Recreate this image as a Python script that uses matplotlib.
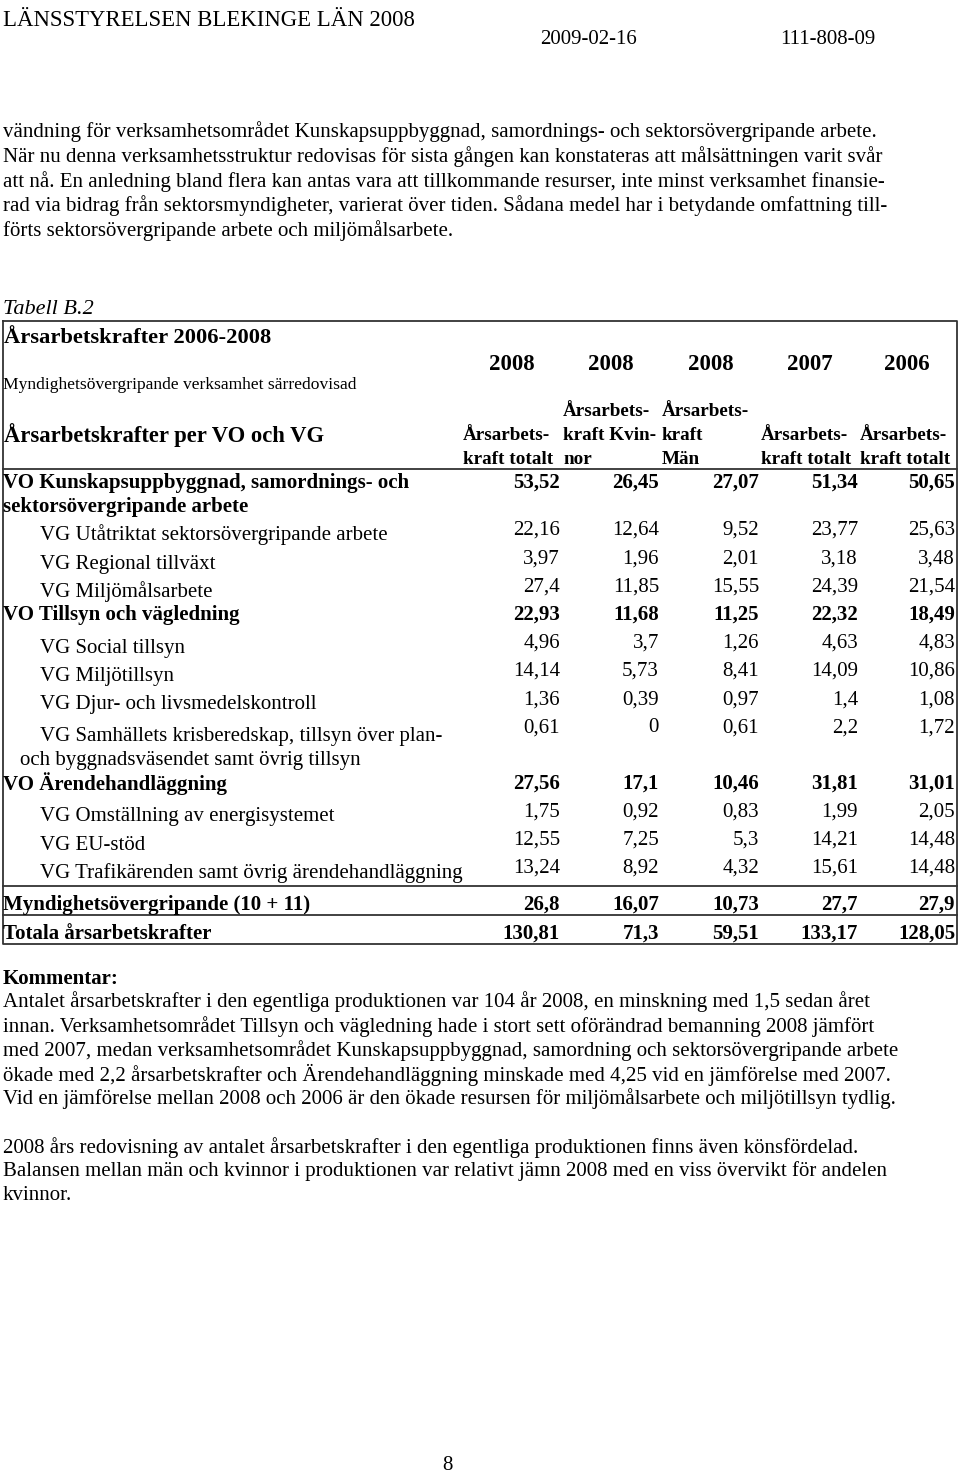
import matplotlib
matplotlib.use("Agg")
import matplotlib.pyplot as plt

plt.rcParams['font.family'] = ['Liberation Serif', 'DejaVu Serif']

# page text
header_left = "LÄNSSTYRELSEN BLEKINGE LÄN 2008"
header_date = "2009-02-16"
header_ref = "111-808-09"
intro_lines = [
    "vändning för verksamhetsområdet Kunskapsuppbyggnad, samordnings- och sektorsövergripande arbete.",
    "När nu denna verksamhetsstruktur redovisas för sista gången kan konstateras att målsättningen varit svår",
    "att nå. En anledning bland flera kan antas vara att tillkommande resurser, inte minst verksamhet finansie-",
    "rad via bidrag från sektorsmyndigheter, varierat över tiden. Sådana medel har i betydande omfattning till-",
    "förts sektorsövergripande arbete och miljömålsarbete.",
]
table_caption = "Tabell B.2"
table_title = "Årsarbetskrafter 2006-2008"
table_subtitle = "Myndighetsövergripande verksamhet särredovisad"
table_head = "Årsarbetskrafter per VO och VG"
years = ["2008", "2008", "2008", "2007", "2006"]
col_heads = [
    ["", "Årsarbets-", "kraft totalt"],
    ["Årsarbets-", "kraft Kvin-", "nor"],
    ["Årsarbets-", "kraft", "Män"],
    ["", "Årsarbets-", "kraft totalt"],
    ["", "Årsarbets-", "kraft totalt"],
]

# table rows
row_labels = [
    ["VO Kunskapsuppbyggnad, samordnings- och", "sektorsövergripande arbete"],
    ["VG Utåtriktat sektorsövergripande arbete"],
    ["VG Regional tillväxt"],
    ["VG Miljömålsarbete"],
    ["VO Tillsyn och vägledning"],
    ["VG Social tillsyn"],
    ["VG Miljötillsyn"],
    ["VG Djur- och livsmedelskontroll"],
    ["VG Samhällets krisberedskap, tillsyn över plan-", "och byggnadsväsendet samt övrig tillsyn"],
    ["VO Ärendehandläggning"],
    ["VG Omställning av energisystemet"],
    ["VG EU-stöd"],
    ["VG Trafikärenden samt övrig ärendehandläggning"],
    ["Myndighetsövergripande (10 + 11)"],
    ["Totala årsarbetskrafter"],
]
row_kind = ["VO", "VG", "VG", "VG", "VO", "VG", "VG", "VG", "VG",
            "VO", "VG", "VG", "VG", "SUM", "SUM"]
values = [
    ["53,52", "26,45", "27,07", "51,34", "50,65"],
    ["22,16", "12,64", "9,52", "23,77", "25,63"],
    ["3,97", "1,96", "2,01", "3,18", "3,48"],
    ["27,4", "11,85", "15,55", "24,39", "21,54"],
    ["22,93", "11,68", "11,25", "22,32", "18,49"],
    ["4,96", "3,7", "1,26", "4,63", "4,83"],
    ["14,14", "5,73", "8,41", "14,09", "10,86"],
    ["1,36", "0,39", "0,97", "1,4", "1,08"],
    ["0,61", "0", "0,61", "2,2", "1,72"],
    ["27,56", "17,1", "10,46", "31,81", "31,01"],
    ["1,75", "0,92", "0,83", "1,99", "2,05"],
    ["12,55", "7,25", "5,3", "14,21", "14,48"],
    ["13,24", "8,92", "4,32", "15,61", "14,48"],
    ["26,8", "16,07", "10,73", "27,7", "27,9"],
    ["130,81", "71,3", "59,51", "133,17", "128,05"],
]

comment_head = "Kommentar:"
comment_lines = [
    "Antalet årsarbetskrafter i den egentliga produktionen var 104 år 2008, en minskning med 1,5 sedan året",
    "innan. Verksamhetsområdet Tillsyn och vägledning hade i stort sett oförändrad bemanning 2008 jämfört",
    "med 2007, medan verksamhetsområdet Kunskapsuppbyggnad, samordning och sektorsövergripande arbete",
    "ökade med 2,2 årsarbetskrafter och Ärendehandläggning minskade med 4,25 vid en jämförelse med 2007.",
    "Vid en jämförelse mellan 2008 och 2006 är den ökade resursen för miljömålsarbete och miljötillsyn tydlig.",
    "",
    "2008 års redovisning av antalet årsarbetskrafter i den egentliga produktionen finns även könsfördelad.",
    "Balansen mellan män och kvinnor i produktionen var relativt jämn 2008 med en viss övervikt för andelen",
    "kvinnor.",
]
page_no = "8"

# layout (pixels, y from top)
W, H = 960, 1484
fs_body = 15.0
fs_small = 12.6
fs_colhead = 13.8
line_gap = 24.6
row_y = [483, 530, 559, 587, 615, 643, 671, 700, 728, 784, 812, 840, 868, 905, 934]
val_right = [560, 659, 759, 858, 955]
col_left = [463, 563, 662, 761, 860]

fig = plt.figure(figsize=(W / 100, H / 100), dpi=100)
ax = fig.add_axes([0, 0, 1, 1])
ax.set_xlim(0, W)
ax.set_ylim(H, 0)
ax.axis("off")

ax.text(3, 20, header_left, fontsize=16.4, va="center", ha="left")
ax.text(540, 39, header_date, fontsize=15, va="center", ha="left")
ax.text(780, 39, header_ref, fontsize=15, va="center", ha="left")

for i, line in enumerate(intro_lines):
    ax.text(3, 132 + i * line_gap, line, fontsize=fs_body, va="center", ha="left")

ax.text(3, 310, table_caption, fontsize=16, style="italic", va="center")
ax.text(4, 338, table_title, fontsize=16.2, weight="bold", va="center")
ax.text(3, 385, table_subtitle, fontsize=fs_small, va="center")
ax.text(4, 435, table_head, fontsize=16.3, weight="bold", va="center")
for j, yr in enumerate(years):
    ax.text(val_right[j] - 48, 365, yr, fontsize=16.5, weight="bold", va="center", ha="center")
for j, lines in enumerate(col_heads):
    for k, t in enumerate(lines):
        ax.text(col_left[j], 412 + k * 24, t, fontsize=fs_colhead, weight="bold", va="center")

for i, lab in enumerate(row_labels):
    kind = row_kind[i]
    bold = kind != "VG"
    y = row_y[i]
    off = 0 if bold else 5
    if kind == "VG" and len(lab) > 1:
        off = 9
    for k, t in enumerate(lab):
        x = 40 if (kind == "VG" and k == 0) else (20 if kind == "VG" else 3)
        ax.text(x, y + off + k * 24, t, fontsize=fs_body, weight="bold" if bold else "normal",
                va="center", ha="left")
    for j, v in enumerate(values[i]):
        ax.text(val_right[j], y, v, fontsize=fs_body, weight="bold" if bold else "normal",
                va="center", ha="right")

# table frame and rules
lw = 1.3
ax.plot([3, 957, 957, 3, 3], [321, 321, 944, 944, 321], color="#333333", lw=lw)
for yy in [469, 886, 915]:
    ax.plot([3, 957], [yy, yy], color="#333333", lw=lw)

ax.text(3, 979, comment_head, fontsize=fs_body, weight="bold", va="center")
for i, line in enumerate(comment_lines):
    ax.text(3, 1002 + i * 24.2, line, fontsize=fs_body, va="center", ha="left")

ax.text(447, 1466, page_no, fontsize=fs_body, va="center", ha="center")

fig.savefig("out.png", dpi=100)
